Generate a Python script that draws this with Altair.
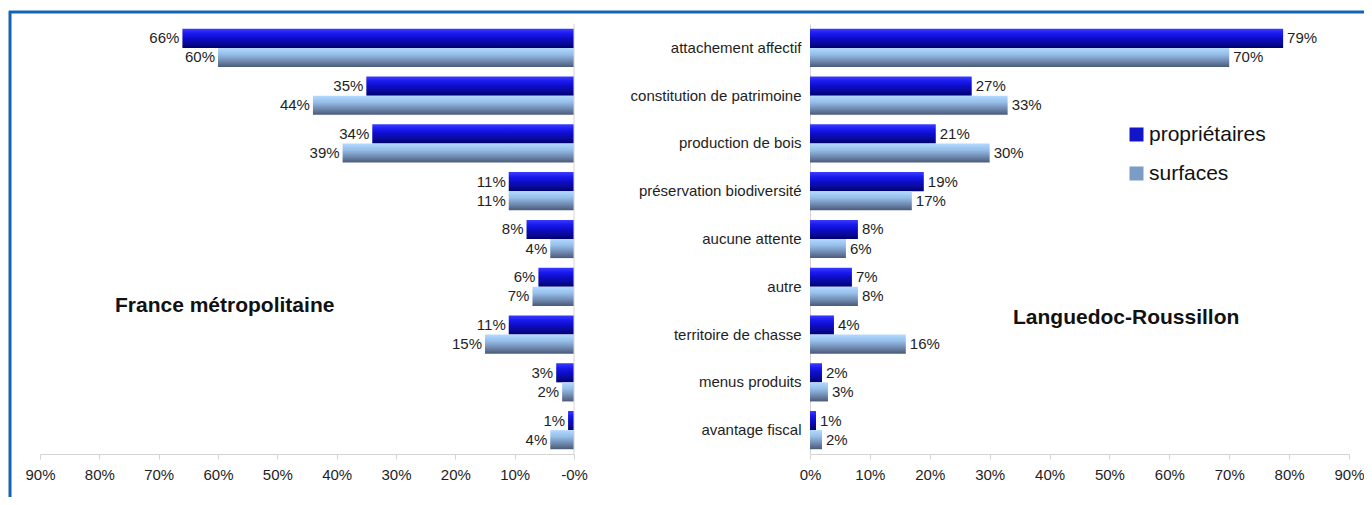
import altair as alt
import pandas as pd

# ---------------- data ----------------
CATEGORIES = [
    "attachement affectif",
    "constitution de patrimoine",
    "production de bois",
    "préservation biodiversité",
    "aucune attente",
    "autre",
    "territoire de chasse",
    "menus produits",
    "avantage fiscal",
]
SERIES = ["propriétaires", "surfaces"]
REGIONS = ["France métropolitaine", "Languedoc-Roussillon"]

FR_PROPRIETAIRES = [66, 35, 34, 11, 8, 6, 11, 3, 1]
FR_SURFACES = [60, 44, 39, 11, 4, 7, 15, 2, 4]
LR_PROPRIETAIRES = [79, 27, 21, 19, 8, 7, 4, 2, 1]
LR_SURFACES = [70, 33, 30, 17, 6, 8, 16, 3, 2]

X_TICKS = [0, 10, 20, 30, 40, 50, 60, 70, 80, 90]

rows = []
for region, prop, surf in [(REGIONS[0], FR_PROPRIETAIRES, FR_SURFACES),
                           (REGIONS[1], LR_PROPRIETAIRES, LR_SURFACES)]:
    for cat, p, s in zip(CATEGORIES, prop, surf):
        rows.append({"region": region, "category": cat, "series": SERIES[0], "value": p})
        rows.append({"region": region, "category": cat, "series": SERIES[1], "value": s})
df = pd.DataFrame(rows)

# ---------------- style ----------------
FONT = "Liberation Sans"
TXT = "#1e1e1e"
AXIS_GREY = "#d4d4d4"
BORDER = "#1762b2"

PROP_GRAD = alt.Gradient(
    gradient="linear", x1=0, x2=0, y1=0, y2=1,
    stops=[
        alt.GradientStop(offset=0.0, color="#3c3cff"),
        alt.GradientStop(offset=0.25, color="#1a1af0"),
        alt.GradientStop(offset=0.5, color="#0d0dc8"),
        alt.GradientStop(offset=0.75, color="#0a0a9c"),
        alt.GradientStop(offset=1.0, color="#000070"),
    ],
)
SURF_GRAD = alt.Gradient(
    gradient="linear", x1=0, x2=0, y1=0, y2=1,
    stops=[
        alt.GradientStop(offset=0.0, color="#b4daff"),
        alt.GradientStop(offset=0.35, color="#94bde8"),
        alt.GradientStop(offset=0.7, color="#6f88ae"),
        alt.GradientStop(offset=1.0, color="#4a5a78"),
    ],
)

W, H = 1356, 446
LEFT_RANGE = [566, 32]
RIGHT_RANGE = [802, 1341]

y_enc = alt.Y(
    "category:N",
    scale=alt.Scale(domain=CATEGORIES, range=[16, H], paddingInner=0.2, paddingOuter=0.1),
    axis=alt.Axis(orient="left", offset=-802, title=None, ticks=False,
                  domainColor=AXIS_GREY, labelPadding=9, labelFontSize=15,
                  labelColor=TXT, labelFont=FONT, labelLimit=400),
)
yoff = alt.YOffset("series:N", scale=alt.Scale(domain=SERIES, paddingInner=0, paddingOuter=0))


def x_enc(rng, show_axis, left):
    if show_axis:
        expr = ("datum.value == 0 ? '-0%' : datum.value + '%'" if left
                else "datum.value + '%'")
        axis = alt.Axis(orient="bottom", values=X_TICKS, labelExpr=expr, title=None,
                        grid=False, domainColor=AXIS_GREY, tickColor=AXIS_GREY,
                        tickSize=5, labelFontSize=15, labelFont=FONT, labelColor=TXT,
                        labelPadding=8, labelFlush=False, labelOverlap=False)
    else:
        axis = None
    return alt.X("value:Q", scale=alt.Scale(domain=[0, 90], range=rng, nice=False, zero=True),
                 axis=axis)


base = alt.Chart(df)


def panel(region, rng, left):
    prop = base.transform_filter(
        (alt.datum.region == region) & (alt.datum.series == SERIES[0])
    ).mark_bar(fill=PROP_GRAD).encode(x=x_enc(rng, True, left), y=y_enc, yOffset=yoff)
    surf = base.transform_filter(
        (alt.datum.region == region) & (alt.datum.series == SERIES[1])
    ).mark_bar(fill=SURF_GRAD).encode(x=x_enc(rng, False, left), y=y_enc, yOffset=yoff)
    labels = base.transform_filter(alt.datum.region == region).transform_calculate(
        label="datum.value + '%'"
    ).mark_text(
        align="right" if left else "left", dx=-3 if left else 4, baseline="middle",
        fontSize=15, font=FONT, color=TXT,
    ).encode(x=x_enc(rng, False, left), y=y_enc, yOffset=yoff, text="label:N")
    return [prop, surf, labels]


left_layers = panel(REGIONS[0], LEFT_RANGE, True)
right_layers = panel(REGIONS[1], RIGHT_RANGE, False)

one = pd.DataFrame({"k": [0]})
zero_line = alt.Chart(one).mark_rule(color=AXIS_GREY, strokeWidth=1).encode(
    x=alt.X(datum=0, scale=alt.Scale(domain=[0, 90], range=LEFT_RANGE, nice=False), axis=None),
    y=alt.value(16), y2=alt.value(H),
)

title_left = alt.Chart(one).mark_text(
    align="left", baseline="middle", fontSize=21, fontWeight="bold", font=FONT, color="#111"
).encode(x=alt.value(107), y=alt.value(298), text=alt.value(REGIONS[0]))
title_right = alt.Chart(one).mark_text(
    align="left", baseline="middle", fontSize=21, fontWeight="bold", font=FONT, color="#111"
).encode(x=alt.value(1005), y=alt.value(310), text=alt.value(REGIONS[1]))

legend_layer = base.transform_filter(alt.datum.region == REGIONS[1]).mark_square(opacity=0).encode(
    x=alt.value(0), y=alt.value(0),
    color=alt.Color("series:N", scale=alt.Scale(domain=SERIES, range=["#1414c8", "#7b9cc6"]),
                    legend=alt.Legend(orient="none", legendX=1118, legendY=116, title=None,
                                      symbolType="square", symbolSize=196, symbolOpacity=1,
                                      symbolStrokeWidth=0, labelFontSize=21, labelFont=FONT,
                                      labelColor="#111", rowPadding=17, labelOffset=2,
                                      padding=0)),
)

border_top = alt.Chart(one).mark_rule(color=BORDER, strokeWidth=3).encode(
    x=alt.value(1), x2=alt.value(W + 20), y=alt.value(4))
border_left = alt.Chart(one).mark_rule(color=BORDER, strokeWidth=3).encode(
    x=alt.value(2), y=alt.value(3), y2=alt.value(H + 60))

chart = alt.layer(
    *left_layers, zero_line, *right_layers, title_left, title_right, legend_layer,
    border_top, border_left,
).resolve_scale(x="independent").properties(
    width=W, height=H,
    padding={"left": 0, "top": 0, "right": 0, "bottom": 43},
    autosize=alt.AutoSizeParams(type="none"),
).configure(background="white").configure_view(stroke=None)

chart.save("out.html", embed_options={"renderer": "svg", "actions": False})
